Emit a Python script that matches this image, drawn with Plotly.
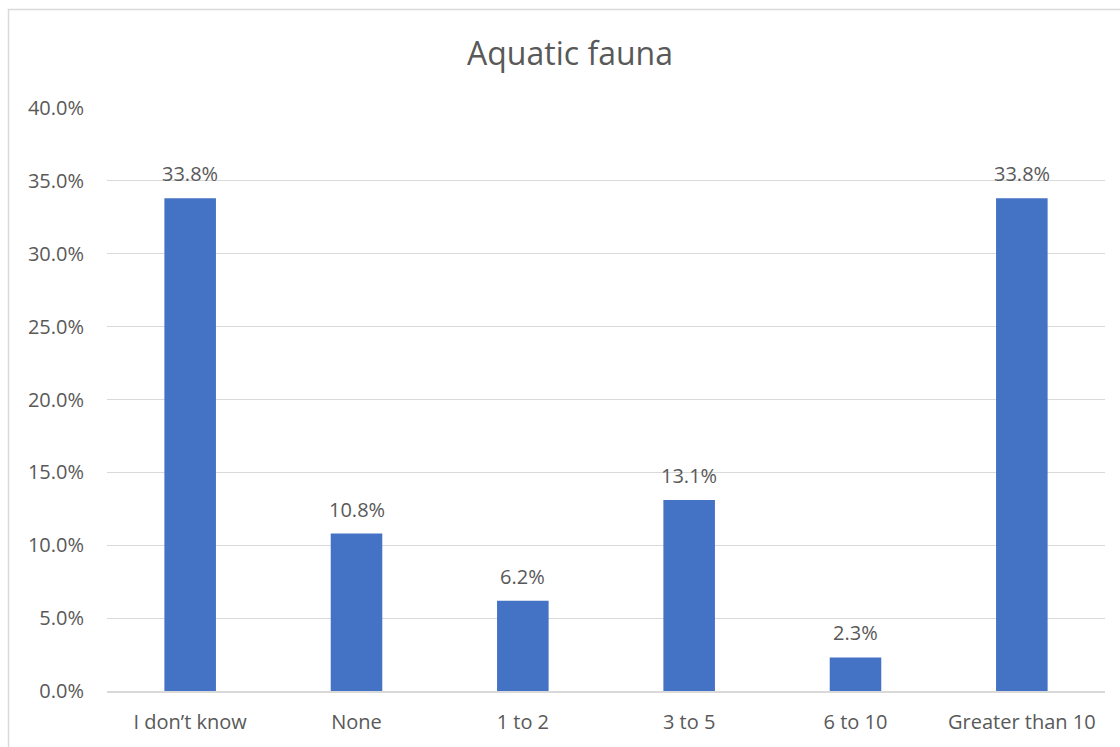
import plotly.graph_objects as go

categories = ["I don\u2019t know", "None", "1 to 2", "3 to 5", "6 to 10", "Greater than 10"]
values = [33.8, 10.8, 6.2, 13.1, 2.3, 33.8]
labels = ["33.8%", "10.8%", "6.2%", "13.1%", "2.3%", "33.8%"]
y_ticks = [0, 5, 10, 15, 20, 25, 30, 35, 40]
y_tick_text = ["0.0%", "5.0%", "10.0%", "15.0%", "20.0%", "25.0%", "30.0%", "35.0%", "40.0%"]
title = "Aquatic fauna"

W, H = 1120, 747
L, R, T, B = 107, 15, 108, 56
pw, ph = W - L - R, H - T - B

font = "Open Sans, Liberation Sans, sans-serif"
tc = "#595959"
fs = 20

fig = go.Figure()
fig.add_trace(go.Bar(x=categories, y=values, marker=dict(color="#4472C4", line=dict(width=0)),
                     width=0.31, hoverinfo="skip"))

for c, v, t in zip(categories, values, labels):
    fig.add_annotation(x=c, y=v, text=t, showarrow=False, yanchor="bottom", yshift=9,
                       font=dict(family=font, size=fs, color=tc))

# chart border
def px_x(p):
    return (p - L) / pw
def px_y(p):
    return (H - B - p) / ph

fig.add_shape(type="rect", xref="paper", yref="paper",
              x0=px_x(8.5), x1=px_x(1135), y0=px_y(760), y1=px_y(9.5),
              line=dict(color="#d9d9d9", width=1.5), fillcolor="rgba(0,0,0,0)", layer="below")

fig.update_layout(
    width=W, height=H,
    margin=dict(l=L, r=R, t=T, b=B),
    paper_bgcolor="white", plot_bgcolor="white",
    title=dict(text=title, x=570 / W, xref="container", xanchor="center",
               y=1 - 54 / H, yref="container", yanchor="middle",
               font=dict(family=font, size=32, color=tc)),
    showlegend=False,
    xaxis=dict(showgrid=False, showline=True, linecolor="#d9d9d9", linewidth=1.5,
               ticks="", tickfont=dict(family=font, size=fs, color=tc), ticklabelstandoff=12),
    yaxis=dict(range=[0, 40], tickvals=y_ticks, ticktext=y_tick_text, showgrid=True,
               gridcolor="#d9d9d9", gridwidth=1.3, zeroline=False, showline=False, ticks="",
               tickfont=dict(family=font, size=fs, color=tc), ticklabelstandoff=22),
)

fig.write_html("out.html", config={"displayModeBar": False},
               post_script="document.body.style.margin='0';document.body.style.overflow='hidden';")
